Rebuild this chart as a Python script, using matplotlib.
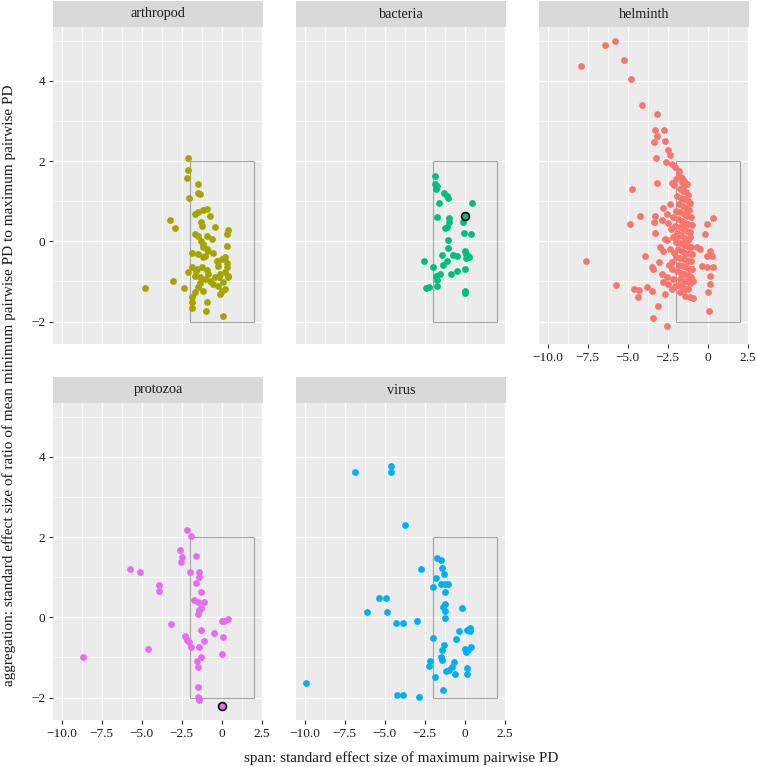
import matplotlib
matplotlib.use("Agg")
import matplotlib.pyplot as plt
from matplotlib.patches import Rectangle

# ---------------------------------------------------------------------------
# Data
# ---------------------------------------------------------------------------

arthropod_x = [-2.10, -2.10, -2.15, -2.04, -1.46, -1.46, -1.36, -3.23, -2.90, -4.81,
               -3.02, -2.35, -1.67, -1.46, -1.15, -0.94, -0.73, -1.29, -1.25, -0.42,
               0.42, 0.31, -1.67, -1.46, -0.94, -0.63, -1.15, 0.31, -0.83, -0.52,
               -1.04, -1.88, -0.21, 0.21, 0.31, -1.88, -1.56, -1.25, -0.94, -2.09,
               -1.67, -1.36, -0.83, -1.04, -0.73, -0.42, -0.10, 0.21, 0.42, -0.52,
               -0.21, 0.10, 0.21, 0.00, -0.10, -1.46, -1.67, -1.15, -1.88, -1.84,
               -1.88, -0.94, -1.00, 0.06, 0.00, -0.21, -1.29, -1.15, -0.94, -0.31,
               -0.15, -1.35, 0.31, 0.40, -1.60, -1.19, -1.46]
arthropod_y = [2.07, 1.78, 1.58, 1.08, 1.42, 1.20, 1.17, 0.53, 0.34, -1.16,
               -0.98, -1.16, 0.68, 0.73, 0.79, 0.81, 0.64, 0.48, 0.39, 0.35,
               0.28, 0.18, 0.18, 0.14, 0.14, 0.06, -0.07, -0.11, -0.23, -0.28,
               -0.36, -0.30, -0.48, -0.40, -0.53, -0.65, -0.69, -0.65, -0.71, -0.77,
               -0.86, -0.90, -0.82, -0.94, -0.98, -0.90, -0.82, -0.77, -0.86, -1.07,
               -1.11, -1.02, -1.19, -1.23, -1.32, -1.15, -1.27, -1.23, -1.40, -1.52,
               -1.67, -1.52, -1.73, -1.86, -0.44, -0.61, 0.00, -0.15, -0.19, -0.48,
               -0.90, -1.03, -0.65, -0.90, -0.73, -0.40, -0.32]

bacteria_x = [-1.88, -1.83, -1.75, -1.79, -1.27, -1.12, -1.02, -1.58, 0.44, -0.08,
              -1.73, -0.98, -0.98, -1.23, -1.08, -0.06, 0.40, -1.06, -1.06, -1.44,
              -0.75, -0.50, 0.02, 0.10, 0.20, 0.06, 0.25, -1.12, -1.33, -2.54,
              -1.98, 0.02, -0.50, -0.88, -1.54, -1.79, -1.75, -1.71, -2.21, -2.42,
              0.04, 0.04]
bacteria_y = [1.63, 1.42, 1.38, 1.30, 1.20, 1.12, 1.08, 0.96, 0.96, 0.48,
              0.61, 0.58, 0.48, 0.33, 0.35, 0.21, 0.18, 0.03, -0.17, -0.35,
              -0.33, -0.37, -0.25, -0.32, -0.36, -0.42, -0.38, -0.48, -0.58, -0.49,
              -0.63, -0.69, -0.73, -0.82, -0.82, -0.86, -0.97, -1.12, -1.13, -1.17,
              -1.25, -1.29]
bacteria_mark = (0.0, 0.62)

helminth_x = [-5.79, -6.44, -7.90, -5.21, -4.77, -4.13, -3.17, -3.27, -2.73, -3.15,
              -2.67, -3.33, -2.46, -2.38, -3.25, -2.58, -2.25, -2.04, -1.77, -3.19,
              -4.73, -2.25, -1.98, -1.63, -1.52, -2.36, -2.81, -4.21, -4.88, -3.29,
              -3.36, -2.88, -2.56, -2.46, -3.29, -0.06, 0.35, -0.17, -2.67, -2.15,
              -1.84, -1.42, -1.10, -2.04,
              -7.58, -5.75, -4.58, -4.29, -4.35, -3.92, -3.50, -3.40, -3.02, -2.98,
              -2.77, -2.25, -2.56, -2.36, -2.88, -2.56, -2.77, -3.81, -3.50, -3.08,
              -3.44, -2.56, -2.67, -2.25, -2.04, -2.46, -1.73, -1.42, -1.10, -0.90,
              0.04, 0.06, 0.15, 0.15, -0.48, 0.15, -0.06, 0.25, -0.38, -0.06,
              0.35, -0.69, -0.90,
              -1.80, -1.60, -1.45, -1.30, -1.75, -1.55, -1.35, -1.20, -1.90, -1.65,
              -1.45, -1.25, -1.10, -1.80, -1.55, -1.35, -1.15, -1.95, -1.70, -1.48,
              -1.28, -1.05, -1.85, -1.60, -1.40, -1.20, -1.00, -1.75, -1.50, -1.30,
              -1.10, -1.90, -1.65, -1.40, -1.20, -1.95, -1.70, -1.50, -1.30, -1.05,
              -1.85, -1.60, -1.40, -1.15, -0.95, -1.95, -1.70, -1.50, -1.25, -1.05,
              -1.80, -1.55, -1.35, -1.15, -0.95, -1.90, -1.65, -1.45, -1.25, -1.05,
              -1.75, -1.50, -1.30, -1.10, -1.85, -1.60, -1.40, -1.20, -2.10, -2.15,
              -2.20, -2.10, -2.15, -2.40, -2.30]
helminth_y = [4.98, 4.88, 4.37, 4.53, 4.05, 3.40, 3.17, 2.78, 2.78, 2.62,
              2.50, 2.48, 2.28, 2.14, 2.08, 1.98, 1.93, 1.85, 1.75, 1.45,
              1.31, 1.45, 1.56, 1.48, 1.35, 0.93, 0.83, 0.63, 0.44, 0.64,
              0.48, 0.52, 0.69, 0.45, 0.20, 0.42, 0.58, 0.18, 0.06, 0.10,
              0.14, 0.08, 0.10, 0.37,
              -0.49, -1.10, -1.18, -1.22, -1.39, -0.36, -0.65, -0.69, -0.51, -0.15,
              -0.23, -0.52, 0.02, -0.19, -0.82, -0.90, -1.02, -1.15, -1.23, -1.61,
              -1.90, -2.12, -1.32, -1.19, -1.11, -1.07, -1.27, -1.36, -1.40, -1.42,
              -1.27, -1.73, -0.86, -1.07, -0.19, -0.23, -0.36, -0.37, -0.61, -0.65,
              -0.65, -0.15, -0.98,
              1.62, 1.58, 1.50, 1.42, 1.30, 1.25, 1.22, 1.15, 1.12, 1.08,
              1.05, 1.00, 0.95, 0.92, 0.88, 0.82, 0.78, 0.75, 0.72, 0.68,
              0.62, 0.60, 0.55, 0.50, 0.45, 0.42, 0.40, 0.35, 0.30, 0.25,
              0.22, 0.20, 0.15, 0.05, 0.02, -0.02, -0.05, -0.10, -0.12, -0.15,
              -0.20, -0.25, -0.28, -0.30, -0.32, -0.40, -0.42, -0.45, -0.48, -0.50,
              -0.58, -0.62, -0.65, -0.68, -0.70, -0.75, -0.78, -0.82, -0.85, -0.88,
              -0.95, -0.98, -1.00, -1.05, -1.10, -1.12, -1.18, -1.20, 1.40, 0.60,
              -0.70, -0.30, -0.95, -0.60, 0.30]

protozoa_x = [-2.19, -1.94, -2.60, -2.46, -2.56, -1.60, -5.71, -5.08, -1.96, -1.40,
              -1.40, -1.63, -3.92, -3.92, -1.31, -1.71, -1.46, -1.10, -1.29, -1.42,
              -1.50, -3.17, 0.00, 0.17, 0.38, -0.46, -1.29, 0.10, -2.27, -2.19,
              -2.04, -1.94, -1.10, -1.44, -4.60, -8.65, 0.00, -1.31, -1.56, -1.46,
              -1.46, -1.50, -1.44]
protozoa_y = [2.18, 2.02, 1.68, 1.50, 1.38, 1.53, 1.21, 1.13, 1.12, 1.13,
              1.00, 0.86, 0.81, 0.66, 0.63, 0.43, 0.38, 0.38, 0.22, 0.17,
              0.08, -0.18, -0.10, -0.10, -0.04, -0.39, -0.32, -0.48, -0.46, -0.56,
              -0.62, -0.73, -0.59, -0.73, -0.80, -0.98, -0.91, -0.99, -1.08, -1.23,
              -1.73, -1.98, -2.06]
protozoa_mark = (0.02, -2.20)

virus_x = [-6.83, -4.58, -4.58, -3.71, -2.75, -1.75, -1.48, -1.44, -1.31, -1.77,
           -1.96, -1.50, -1.23, -1.02, -1.21, -1.21, -1.33, -1.25, -1.21, -0.15,
           -5.33, -4.94, -6.13, -4.83, -4.31, -3.88, -3.00, -2.00, -0.33, 0.13,
           0.33, 0.33, -0.52, -1.27, -1.40, -1.48, -1.40, 0.02, 0.08, 0.23,
           0.40, -2.19, -2.23, -0.65, -0.81, -0.98, -1.17, 0.13, 0.13, -0.63,
           -1.85, -1.38, -9.94, -4.23, -3.83, -2.85]
virus_y = [3.63, 3.78, 3.62, 2.29, 1.20, 1.48, 1.43, 1.22, 1.08, 0.98,
           0.75, 0.84, 0.82, 0.83, 0.63, 0.34, 0.25, 0.15, -0.03, 0.22,
           0.47, 0.47, 0.13, 0.12, -0.15, -0.15, -0.09, -0.52, -0.33, -0.31,
           -0.27, -0.35, -0.55, -0.70, -0.81, -0.98, -1.06, -0.78, -0.87, -0.81,
           -0.74, -1.08, -1.21, -1.12, -1.23, -1.31, -1.33, -1.27, -1.41, -1.41,
           -1.49, -1.81, -1.63, -1.93, -1.93, -1.98]

x_ticks = [-10, -7.5, -5, -2.5, 0, 2.5]
x_tick_labels = ["\u221210.0", "\u22127.5", "\u22125.0", "\u22122.5", "0", "2.5"]
y_ticks = [-2, 0, 2, 4]
y_tick_labels = ["\u22122", "0", "2", "4"]

# ---------------------------------------------------------------------------
# Style
# ---------------------------------------------------------------------------

plt.rcParams["font.family"] = ["Liberation Serif", "DejaVu Serif"]

W, H = 757, 767
PANEL_BG = "#EBEBEB"
STRIP_BG = "#D9D9D9"
TEXT = "#1a1a1a"
TICK = "#333333"

fig = plt.figure(figsize=(W / 100, H / 100), dpi=100)


def px_axes(left, top, width, height):
    return fig.add_axes([left / W, 1 - (top + height) / H, width / W, height / H])


def panel(left, top, name, colour, xs, ys, show_x, show_y, mark=None):
    # strip
    sax = px_axes(left, top, 210, 26)
    sax.set_facecolor(STRIP_BG)
    sax.set_xticks([])
    sax.set_yticks([])
    for sp in sax.spines.values():
        sp.set_visible(False)
    sax.text(0.5, 0.5, name, ha="center", va="center", fontsize=10.3, color=TEXT,
             transform=sax.transAxes)

    ax = px_axes(left, top + 26, 210, 317)
    ax.set_facecolor(PANEL_BG)
    ax.set_xlim(-10.54, 2.58)
    ax.set_ylim(-2.56, 5.34)
    ax.set_xticks(x_ticks)
    ax.set_xticks([-8.75, -6.25, -3.75, -1.25, 1.25], minor=True)
    ax.set_yticks(y_ticks)
    ax.set_yticks([-1, 1, 3, 5], minor=True)
    ax.grid(which="major", color="white", linewidth=1.0)
    ax.grid(which="minor", color="white", linewidth=0.5)
    ax.set_axisbelow(True)
    for sp in ax.spines.values():
        sp.set_visible(False)

    ax.tick_params(which="minor", length=0)
    ax.tick_params(which="major", length=3, width=0.8, color=TICK,
                   labelsize=9.6, labelcolor=TEXT, pad=2.5)
    if show_x:
        ax.set_xticklabels(x_tick_labels)
    else:
        ax.tick_params(axis="x", which="both", length=0, labelbottom=False)
    if show_y:
        ax.set_yticklabels(y_tick_labels)
    else:
        ax.tick_params(axis="y", which="both", length=0, labelleft=False)

    ax.add_patch(Rectangle((-2, -2), 4, 4, fill=False, edgecolor="#A3A3A3",
                           linewidth=0.8, zorder=2))
    ax.scatter(xs, ys, s=24, color=colour, linewidths=0, zorder=3)
    if mark is not None:
        ax.scatter([mark[0]], [mark[1]], s=32, facecolor=colour,
                   edgecolor="black", linewidths=1.2, zorder=4)
    return ax


panel(53, 1, "arthropod", "#A3A500", arthropod_x, arthropod_y, False, True)
panel(296, 1, "bacteria", "#00BF7D", bacteria_x, bacteria_y, False, False,
      mark=bacteria_mark)
panel(539, 1, "helminth", "#F8766D", helminth_x, helminth_y, True, False)
panel(53, 377, "protozoa", "#E76BF3", protozoa_x, protozoa_y, True, True,
      mark=protozoa_mark)
panel(296, 377, "virus", "#00B0F6", virus_x, virus_y, True, False)

fig.text(401 / W, 1 - 758 / H, "span: standard effect size of maximum pairwise PD",
         ha="center", va="center", fontsize=11, color=TEXT)
fig.text(9 / W, 1 - 385 / H,
         "aggregation: standard effect size of ratio of mean minimum pairwise PD to maximum pairwise PD",
         ha="center", va="center", rotation=90, fontsize=11, color=TEXT)

fig.savefig("out.png", dpi=100, facecolor="white")
